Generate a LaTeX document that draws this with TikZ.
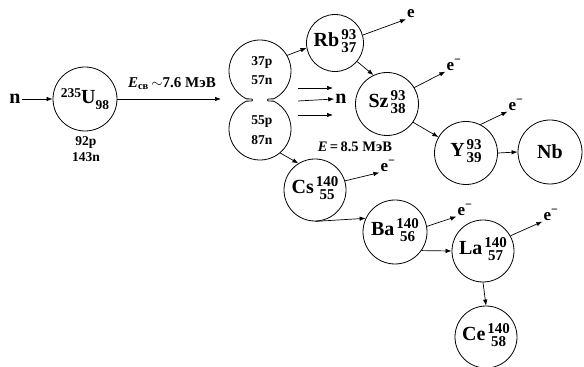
\documentclass[tikz,border=0pt]{standalone}
\usepackage{fontspec}
\setmainfont{Liberation Serif}
\usetikzlibrary{arrows.meta,calc}
\newcommand{\elsz}{\fontsize{20}{22}\selectfont}
\newcommand{\numsz}{\fontsize{15}{13}\selectfont}
\newcommand{\lblsz}{\fontsize{13.5}{14}\selectfont}
\newcommand{\esz}{\fontsize{17}{18}\selectfont}
\newcommand{\nucl}[3]{{\elsz #1}\hspace{2pt}{\numsz\renewcommand{\arraystretch}{0.9}\begin{tabular}{@{}c@{}}#2\\#3\end{tabular}}}
\newcommand{\elec}{e\textsuperscript{−}}
\begin{document}
\begin{tikzpicture}[x=1pt,y=1pt,
  nuc/.style={circle, draw, line width=0.8pt, inner sep=0pt, minimum size=62pt, font=\bfseries},
  ghost/.style={circle, inner sep=0pt, minimum size=62pt},
  arr/.style={-{Latex[length=6pt,width=4.5pt]}, line width=0.7pt},
  lbl/.style={font=\bfseries\lblsz, inner sep=1pt},
  elbl/.style={font=\bfseries\esz, inner sep=1pt}]
\useasboundingbox (0,0) rectangle (584,367);

% incoming neutron and uranium
\node[elbl, font=\bfseries\elsz] (n0) at (15,268) {n};
\node[nuc, minimum size=64pt] (U) at (85,268) {\raisebox{6pt}{\lblsz 235}{\elsz U}\raisebox{-6pt}{\lblsz 98}};
\node[lbl] (up) at (86,225) {92p};
\node[lbl] (un) at (86,210) {143n};
\draw[arr] (n0) -- (U.west);
\coordinate (fe) at (221,268);
\draw[arr] (U.east) -- (fe);
\node[font=\bfseries\fontsize{15}{16}\selectfont, inner sep=1pt] (E1) at (172,283) {\textit{E}\textsubscript{св}\,$\sim$7.6 МэВ};

% fissioning nucleus
\node[ghost] (T) at (260,296) {};
\node[ghost] (B) at (260,238) {};
\draw[line width=0.8pt] ($(260,296)+(-64:31)$) arc[start angle=-64, end angle=244, radius=31]
  to[out=334, in=90] (252.5,267) to[out=270, in=26] ($(260,238)+(116:31)$)
  arc[start angle=116, end angle=424, radius=31]
  to[out=154, in=270] (267.5,267) to[out=90, in=206] cycle;
\node[lbl] (t1) at (262,305) {37p};
\node[lbl] (t2) at (262,287) {57n};
\node[lbl] (b1) at (262,245) {55p};
\node[lbl] (b2) at (262,227) {87n};

% prompt neutrons
\node[elbl, font=\bfseries\elsz] (nn) at (341,268) {n};
\coordinate (a1s) at (298,279); \coordinate (a1e) at (333,279);
\coordinate (a2s) at (298,266);
\coordinate (a3s) at (298,252); \coordinate (a3e) at (333,252);
\draw[arr] (a1s) -- (a1e);
\draw[arr] (a2s) -- (nn.west);
\draw[arr] (a3s) -- (a3e);

% light fragment chain
\node[nuc, minimum size=57pt] (Rb) at (335,324) {\nucl{Rb}{93}{37}};
\node[nuc, minimum size=63pt] (Sz) at (387,263) {\nucl{Sz}{93}{38}};
\node[nuc, minimum size=63pt] (Y) at (466,214) {\nucl{Y}{93}{39}};
\node[nuc, minimum size=64pt] (Nb) at (550,215) {\elsz Nb};
\draw[arr] (T.30) -- (Rb.190);
\draw[arr] (Rb.-40) -- (Sz.115);
\draw[arr] (Sz.-35) -- (Y.150);
\draw[arr] (Y.east) -- (Nb.west);
\node[elbl] (eRb) at (411,353) {e};
\draw[arr] (Rb.16) -- (eRb.south west);
\node[elbl] (eSz) at (454,302) {\elec};
\draw[arr] (Sz.31) -- (eSz.south west);
\node[elbl] (eY) at (516,262) {\elec};
\draw[arr] (Y.63) -- (eY.south west);

% heavy fragment chain
\node[font=\bfseries\fontsize{14.5}{16}\selectfont, inner sep=1pt] (E2) at (355,220) {\textit{E}\,=\,8.5 МэВ};
\node[nuc, minimum size=62pt] (Cs) at (315,177) {\nucl{Cs}{140}{55}};
\node[nuc, minimum size=64pt] (Ba) at (395,135) {\nucl{Ba}{140}{56}};
\node[nuc, minimum size=62pt] (La) at (483,116) {\nucl{La}{140}{57}};
\node[nuc, minimum size=62pt] (Ce) at (486,30) {\nucl{Ce}{140}{58}};
\draw[arr] (B.-50) -- (Cs.122);
\draw[arr] (Cs.south) -- (Ba.155);
\draw[arr] (Ba.-35) -- (La.west);
\draw[arr] (La.south) -- (Ce.north);
\node[elbl] (eCs) at (388,201) {\elec};
\draw[arr] (Cs.17) -- (eCs.south west);
\node[elbl] (eBa) at (465,157) {\elec};
\draw[arr] (Ba.10) -- (eBa.south west);
\node[elbl] (eLa) at (551,152) {\elec};
\draw[arr] (La.29) -- (eLa.south west);
\end{tikzpicture}
\end{document}
